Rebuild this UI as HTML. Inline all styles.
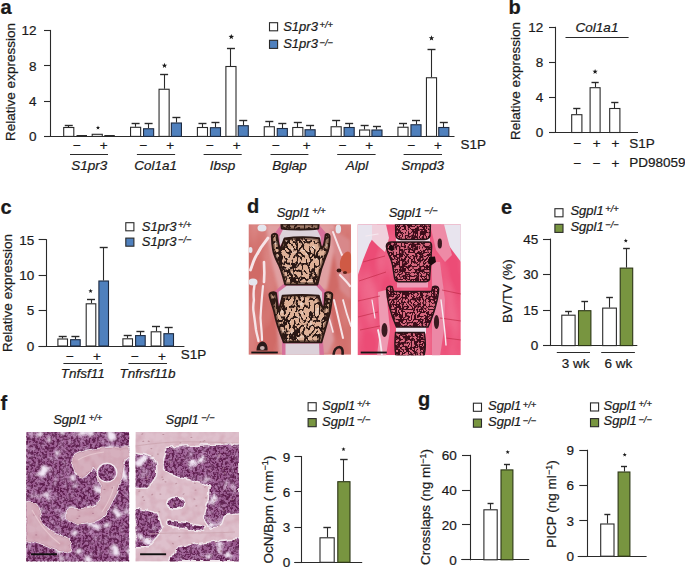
<!DOCTYPE html>
<html><head><meta charset="utf-8"><style>
html,body{margin:0;padding:0;background:#fff;}
svg{display:block;}
text{font-family:"Liberation Sans", sans-serif;stroke:#1a1a1a;stroke-width:0.22px;paint-order:stroke;}
</style></head><body>
<svg width="685" height="571" viewBox="0 0 685 571" font-family='"Liberation Sans", sans-serif'>
<text x="0.5" y="13.7" font-size="20" text-anchor="start" font-weight="bold" fill="#1a1a1a" >a</text>
<line x1="50.50" y1="29.90" x2="50.50" y2="136.90" stroke="#2a2a2a" stroke-width="1.1"/>
<line x1="44.00" y1="30.50" x2="50.50" y2="30.50" stroke="#2a2a2a" stroke-width="1.1"/>
<text x="36.5" y="35.26" font-size="13.5" text-anchor="end" fill="#1a1a1a" >12</text>
<line x1="44.00" y1="65.50" x2="50.50" y2="65.50" stroke="#2a2a2a" stroke-width="1.1"/>
<text x="36.5" y="70.66" font-size="13.5" text-anchor="end" fill="#1a1a1a" >8</text>
<line x1="44.00" y1="101.50" x2="50.50" y2="101.50" stroke="#2a2a2a" stroke-width="1.1"/>
<text x="36.5" y="105.96" font-size="13.5" text-anchor="end" fill="#1a1a1a" >4</text>
<line x1="44.00" y1="136.50" x2="50.50" y2="136.50" stroke="#2a2a2a" stroke-width="1.1"/>
<text x="36.5" y="141.26" font-size="13.5" text-anchor="end" fill="#1a1a1a" >0</text>
<line x1="44.00" y1="136.50" x2="454.50" y2="136.50" stroke="#2a2a2a" stroke-width="1.1"/>
<text x="15.0" y="82" font-size="13.5" text-anchor="middle" fill="#1a1a1a" transform="rotate(-90 15.0 82)" >Relative expression</text>
<line x1="68.50" y1="127.00" x2="68.50" y2="125.20" stroke="#2a2a2a" stroke-width="1.1"/>
<line x1="64.75" y1="125.50" x2="72.75" y2="125.50" stroke="#2a2a2a" stroke-width="1.4"/>
<rect x="63.699999999999996" y="127.5" width="10.100000000000001" height="8.900000000000006" fill="#fff" stroke="#2a2a2a" stroke-width="1.1"/>
<line x1="76.50" y1="135.80" x2="87.00" y2="135.80" stroke="#2a2a2a" stroke-width="1.6"/>
<rect x="92.2" y="134.3" width="10.099999999999994" height="2.0999999999999943" fill="#fff" stroke="#2a2a2a" stroke-width="1.1"/>
<line x1="104.30" y1="135.80" x2="114.80" y2="135.80" stroke="#2a2a2a" stroke-width="1.6"/>
<text x="76.9" y="150" font-size="13.5" text-anchor="middle" fill="#1a1a1a" >−</text>
<text x="103.7" y="150.3" font-size="13.5" text-anchor="middle" fill="#1a1a1a" >+</text>
<line x1="70.00" y1="154.50" x2="108.00" y2="154.50" stroke="#2a2a2a" stroke-width="1.1"/>
<text x="89.2" y="170.2" font-size="13.5" text-anchor="middle" font-style="italic" fill="#1a1a1a" >S1pr3</text>
<line x1="135.50" y1="126.80" x2="135.50" y2="123.75" stroke="#2a2a2a" stroke-width="1.1"/>
<line x1="131.60" y1="123.50" x2="139.60" y2="123.50" stroke="#2a2a2a" stroke-width="1.4"/>
<rect x="130.55" y="127.3" width="10.099999999999994" height="9.100000000000009" fill="#fff" stroke="#2a2a2a" stroke-width="1.1"/>
<line x1="148.50" y1="128.25" x2="148.50" y2="123.00" stroke="#2a2a2a" stroke-width="1.1"/>
<line x1="144.60" y1="123.50" x2="152.60" y2="123.50" stroke="#2a2a2a" stroke-width="1.4"/>
<rect x="143.55" y="128.75" width="10.099999999999994" height="7.650000000000006" fill="#4f80bd" stroke="#1e2a40" stroke-width="1.1"/>
<line x1="164.50" y1="88.75" x2="164.50" y2="74.00" stroke="#2a2a2a" stroke-width="1.1"/>
<line x1="160.10" y1="74.50" x2="168.10" y2="74.50" stroke="#2a2a2a" stroke-width="1.4"/>
<rect x="159.05" y="89.25" width="10.099999999999994" height="47.150000000000006" fill="#fff" stroke="#2a2a2a" stroke-width="1.1"/>
<line x1="176.50" y1="122.50" x2="176.50" y2="117.50" stroke="#2a2a2a" stroke-width="1.1"/>
<line x1="172.40" y1="117.50" x2="180.40" y2="117.50" stroke="#2a2a2a" stroke-width="1.4"/>
<rect x="171.35" y="123.0" width="10.099999999999994" height="13.400000000000006" fill="#4f80bd" stroke="#1e2a40" stroke-width="1.1"/>
<text x="143.5" y="150" font-size="13.5" text-anchor="middle" fill="#1a1a1a" >−</text>
<text x="170.1" y="150.3" font-size="13.5" text-anchor="middle" fill="#1a1a1a" >+</text>
<line x1="136.90" y1="154.50" x2="175.10" y2="154.50" stroke="#2a2a2a" stroke-width="1.1"/>
<text x="155.6" y="170.2" font-size="13.5" text-anchor="middle" font-style="italic" fill="#1a1a1a" >Col1a1</text>
<line x1="202.50" y1="127.00" x2="202.50" y2="123.40" stroke="#2a2a2a" stroke-width="1.1"/>
<line x1="198.45" y1="123.50" x2="206.45" y2="123.50" stroke="#2a2a2a" stroke-width="1.4"/>
<rect x="197.4" y="127.5" width="10.099999999999994" height="8.900000000000006" fill="#fff" stroke="#2a2a2a" stroke-width="1.1"/>
<line x1="215.50" y1="127.20" x2="215.50" y2="122.60" stroke="#2a2a2a" stroke-width="1.1"/>
<line x1="211.45" y1="122.50" x2="219.45" y2="122.50" stroke="#2a2a2a" stroke-width="1.4"/>
<rect x="210.4" y="127.7" width="10.099999999999994" height="8.700000000000003" fill="#4f80bd" stroke="#1e2a40" stroke-width="1.1"/>
<line x1="230.50" y1="66.00" x2="230.50" y2="48.00" stroke="#2a2a2a" stroke-width="1.1"/>
<line x1="226.95" y1="48.50" x2="234.95" y2="48.50" stroke="#2a2a2a" stroke-width="1.4"/>
<rect x="225.9" y="66.5" width="10.099999999999994" height="69.9" fill="#fff" stroke="#2a2a2a" stroke-width="1.1"/>
<line x1="243.50" y1="125.20" x2="243.50" y2="120.50" stroke="#2a2a2a" stroke-width="1.1"/>
<line x1="239.25" y1="120.50" x2="247.25" y2="120.50" stroke="#2a2a2a" stroke-width="1.4"/>
<rect x="238.2" y="125.7" width="10.099999999999994" height="10.700000000000003" fill="#4f80bd" stroke="#1e2a40" stroke-width="1.1"/>
<text x="209.9" y="150" font-size="13.5" text-anchor="middle" fill="#1a1a1a" >−</text>
<text x="236.8" y="150.3" font-size="13.5" text-anchor="middle" fill="#1a1a1a" >+</text>
<line x1="203.60" y1="154.50" x2="241.70" y2="154.50" stroke="#2a2a2a" stroke-width="1.1"/>
<text x="222.5" y="170.2" font-size="13.5" text-anchor="middle" font-style="italic" fill="#1a1a1a" >Ibsp</text>
<line x1="269.50" y1="126.25" x2="269.50" y2="121.75" stroke="#2a2a2a" stroke-width="1.1"/>
<line x1="265.30" y1="121.50" x2="273.30" y2="121.50" stroke="#2a2a2a" stroke-width="1.4"/>
<rect x="264.25" y="126.75" width="10.100000000000023" height="9.650000000000006" fill="#fff" stroke="#2a2a2a" stroke-width="1.1"/>
<line x1="282.50" y1="128.00" x2="282.50" y2="123.50" stroke="#2a2a2a" stroke-width="1.1"/>
<line x1="278.30" y1="123.50" x2="286.30" y2="123.50" stroke="#2a2a2a" stroke-width="1.4"/>
<rect x="277.25" y="128.5" width="10.100000000000023" height="7.900000000000006" fill="#4f80bd" stroke="#1e2a40" stroke-width="1.1"/>
<line x1="297.50" y1="127.00" x2="297.50" y2="122.00" stroke="#2a2a2a" stroke-width="1.1"/>
<line x1="293.80" y1="122.50" x2="301.80" y2="122.50" stroke="#2a2a2a" stroke-width="1.4"/>
<rect x="292.75" y="127.5" width="10.100000000000023" height="8.900000000000006" fill="#fff" stroke="#2a2a2a" stroke-width="1.1"/>
<line x1="310.50" y1="129.25" x2="310.50" y2="125.25" stroke="#2a2a2a" stroke-width="1.1"/>
<line x1="306.10" y1="125.50" x2="314.10" y2="125.50" stroke="#2a2a2a" stroke-width="1.4"/>
<rect x="305.05" y="129.75" width="10.100000000000023" height="6.650000000000006" fill="#4f80bd" stroke="#1e2a40" stroke-width="1.1"/>
<text x="275.9" y="150" font-size="13.5" text-anchor="middle" fill="#1a1a1a" >−</text>
<text x="306.6" y="150.3" font-size="13.5" text-anchor="middle" fill="#1a1a1a" >+</text>
<line x1="270.50" y1="154.50" x2="308.40" y2="154.50" stroke="#2a2a2a" stroke-width="1.1"/>
<text x="289.4" y="170.2" font-size="13.5" text-anchor="middle" font-style="italic" fill="#1a1a1a" >Bglap</text>
<line x1="336.50" y1="126.25" x2="336.50" y2="120.75" stroke="#2a2a2a" stroke-width="1.1"/>
<line x1="332.15" y1="120.50" x2="340.15" y2="120.50" stroke="#2a2a2a" stroke-width="1.4"/>
<rect x="331.09999999999997" y="126.75" width="10.100000000000023" height="9.650000000000006" fill="#fff" stroke="#2a2a2a" stroke-width="1.1"/>
<line x1="349.50" y1="127.00" x2="349.50" y2="123.00" stroke="#2a2a2a" stroke-width="1.1"/>
<line x1="345.15" y1="123.50" x2="353.15" y2="123.50" stroke="#2a2a2a" stroke-width="1.4"/>
<rect x="344.09999999999997" y="127.5" width="10.100000000000023" height="8.900000000000006" fill="#4f80bd" stroke="#1e2a40" stroke-width="1.1"/>
<line x1="364.50" y1="129.50" x2="364.50" y2="125.75" stroke="#2a2a2a" stroke-width="1.1"/>
<line x1="360.65" y1="125.50" x2="368.65" y2="125.50" stroke="#2a2a2a" stroke-width="1.4"/>
<rect x="359.59999999999997" y="130.0" width="10.100000000000023" height="6.400000000000006" fill="#fff" stroke="#2a2a2a" stroke-width="1.1"/>
<line x1="376.50" y1="129.50" x2="376.50" y2="126.25" stroke="#2a2a2a" stroke-width="1.1"/>
<line x1="372.95" y1="126.50" x2="380.95" y2="126.50" stroke="#2a2a2a" stroke-width="1.4"/>
<rect x="371.9" y="130.0" width="10.100000000000023" height="6.400000000000006" fill="#4f80bd" stroke="#1e2a40" stroke-width="1.1"/>
<text x="342.8" y="150" font-size="13.5" text-anchor="middle" fill="#1a1a1a" >−</text>
<text x="369.1" y="150.3" font-size="13.5" text-anchor="middle" fill="#1a1a1a" >+</text>
<line x1="337.20" y1="154.50" x2="375.60" y2="154.50" stroke="#2a2a2a" stroke-width="1.1"/>
<text x="356.9" y="170.2" font-size="13.5" text-anchor="middle" font-style="italic" fill="#1a1a1a" >Alpl</text>
<line x1="403.50" y1="126.75" x2="403.50" y2="123.25" stroke="#2a2a2a" stroke-width="1.1"/>
<line x1="399.00" y1="123.50" x2="407.00" y2="123.50" stroke="#2a2a2a" stroke-width="1.4"/>
<rect x="397.95" y="127.25" width="10.100000000000023" height="9.150000000000006" fill="#fff" stroke="#2a2a2a" stroke-width="1.1"/>
<line x1="416.50" y1="124.25" x2="416.50" y2="120.25" stroke="#2a2a2a" stroke-width="1.1"/>
<line x1="412.00" y1="120.50" x2="420.00" y2="120.50" stroke="#2a2a2a" stroke-width="1.4"/>
<rect x="410.95" y="124.75" width="10.100000000000023" height="11.650000000000006" fill="#4f80bd" stroke="#1e2a40" stroke-width="1.1"/>
<line x1="431.50" y1="77.25" x2="431.50" y2="49.00" stroke="#2a2a2a" stroke-width="1.1"/>
<line x1="427.50" y1="49.50" x2="435.50" y2="49.50" stroke="#2a2a2a" stroke-width="1.4"/>
<rect x="426.45" y="77.75" width="10.100000000000023" height="58.650000000000006" fill="#fff" stroke="#2a2a2a" stroke-width="1.1"/>
<line x1="443.50" y1="127.00" x2="443.50" y2="122.50" stroke="#2a2a2a" stroke-width="1.1"/>
<line x1="439.80" y1="122.50" x2="447.80" y2="122.50" stroke="#2a2a2a" stroke-width="1.4"/>
<rect x="438.75" y="127.5" width="10.100000000000023" height="8.900000000000006" fill="#4f80bd" stroke="#1e2a40" stroke-width="1.1"/>
<text x="411.4" y="150" font-size="13.5" text-anchor="middle" fill="#1a1a1a" >−</text>
<text x="437.9" y="150.3" font-size="13.5" text-anchor="middle" fill="#1a1a1a" >+</text>
<line x1="403.60" y1="154.50" x2="442.00" y2="154.50" stroke="#2a2a2a" stroke-width="1.1"/>
<text x="422.6" y="170.2" font-size="13.5" text-anchor="middle" font-style="italic" fill="#1a1a1a" >Smpd3</text>
<polygon points="164.50,62.70 165.21,64.63 167.26,64.70 165.64,65.97 166.20,67.95 164.50,66.80 162.80,67.95 163.36,65.97 161.74,64.70 163.79,64.63" fill="#1a1a1a"/>
<polygon points="231.30,33.90 232.01,35.83 234.06,35.90 232.44,37.17 233.00,39.15 231.30,38.00 229.60,39.15 230.16,37.17 228.54,35.90 230.59,35.83" fill="#1a1a1a"/>
<polygon points="431.50,35.30 432.21,37.23 434.26,37.30 432.64,38.57 433.20,40.55 431.50,39.40 429.80,40.55 430.36,38.57 428.74,37.30 430.79,37.23" fill="#1a1a1a"/>
<polygon points="98.00,125.60 98.53,127.07 100.09,127.12 98.86,128.08 99.29,129.58 98.00,128.70 96.71,129.58 97.14,128.08 95.91,127.12 97.47,127.07" fill="#1a1a1a"/>
<text x="460.5" y="148.6" font-size="13.5" text-anchor="start" fill="#1a1a1a" >S1P</text>
<rect x="269.5" y="22.7" width="8.1" height="8.1" fill="#fff" stroke="#2a2a2a" stroke-width="1.1"/>
<rect x="269.5" y="40.3" width="8.1" height="8.1" fill="#4f80bd" stroke="#2a2a2a" stroke-width="1.1"/>
<text x="283.20" y="30.70" font-size="13" font-style="italic" fill="#1a1a1a">S1pr3<tspan font-size="9.3" dy="-2.7" dx="1.6">+/+</tspan></text>
<text x="283.20" y="48.30" font-size="13" font-style="italic" fill="#1a1a1a">S1pr3<tspan font-size="9.3" dy="-2.7" dx="1.6">−/−</tspan></text>
<text x="508.5" y="13.7" font-size="20" text-anchor="start" font-weight="bold" fill="#1a1a1a" >b</text>
<line x1="555.50" y1="26.80" x2="555.50" y2="133.00" stroke="#2a2a2a" stroke-width="1.1"/>
<line x1="549.00" y1="27.50" x2="555.20" y2="27.50" stroke="#2a2a2a" stroke-width="1.1"/>
<text x="543.2" y="32.16" font-size="13.5" text-anchor="end" fill="#1a1a1a" >12</text>
<line x1="549.00" y1="62.50" x2="555.20" y2="62.50" stroke="#2a2a2a" stroke-width="1.1"/>
<text x="543.2" y="67.25999999999999" font-size="13.5" text-anchor="end" fill="#1a1a1a" >8</text>
<line x1="549.00" y1="97.50" x2="555.20" y2="97.50" stroke="#2a2a2a" stroke-width="1.1"/>
<text x="543.2" y="102.26" font-size="13.5" text-anchor="end" fill="#1a1a1a" >4</text>
<line x1="549.00" y1="132.50" x2="555.20" y2="132.50" stroke="#2a2a2a" stroke-width="1.1"/>
<text x="543.2" y="137.36" font-size="13.5" text-anchor="end" fill="#1a1a1a" >0</text>
<line x1="549.00" y1="132.50" x2="638.00" y2="132.50" stroke="#2a2a2a" stroke-width="1.1"/>
<text x="520.0" y="81" font-size="13.5" text-anchor="middle" fill="#1a1a1a" transform="rotate(-90 520.0 81)" >Relative expression</text>
<line x1="576.50" y1="114.20" x2="576.50" y2="108.40" stroke="#2a2a2a" stroke-width="1.1"/>
<line x1="573.20" y1="108.50" x2="580.40" y2="108.50" stroke="#2a2a2a" stroke-width="1.4"/>
<rect x="571.7" y="114.7" width="10.199999999999932" height="17.799999999999997" fill="#fff" stroke="#2a2a2a" stroke-width="1.1"/>
<line x1="595.50" y1="87.20" x2="595.50" y2="82.50" stroke="#2a2a2a" stroke-width="1.1"/>
<line x1="591.50" y1="82.50" x2="598.70" y2="82.50" stroke="#2a2a2a" stroke-width="1.4"/>
<rect x="590.1" y="87.7" width="10.0" height="44.8" fill="#fff" stroke="#2a2a2a" stroke-width="1.1"/>
<line x1="614.50" y1="108.00" x2="614.50" y2="102.50" stroke="#2a2a2a" stroke-width="1.1"/>
<line x1="611.20" y1="102.50" x2="618.40" y2="102.50" stroke="#2a2a2a" stroke-width="1.4"/>
<rect x="609.7" y="108.5" width="10.199999999999932" height="24.0" fill="#fff" stroke="#2a2a2a" stroke-width="1.1"/>
<polygon points="595.10,68.95 595.78,70.77 597.72,70.85 596.19,72.06 596.72,73.92 595.10,72.85 593.48,73.92 594.01,72.06 592.48,70.85 594.42,70.77" fill="#1a1a1a"/>
<text x="597" y="31.7" font-size="13.5" text-anchor="middle" font-style="italic" fill="#1a1a1a" >Col1a1</text>
<line x1="565.50" y1="37.50" x2="628.60" y2="37.50" stroke="#2a2a2a" stroke-width="1.1"/>
<text x="577.5" y="148.3" font-size="13.5" text-anchor="middle" fill="#1a1a1a" >−</text>
<text x="596.8" y="148.3" font-size="13.5" text-anchor="middle" fill="#1a1a1a" >+</text>
<text x="615.5" y="148.3" font-size="13.5" text-anchor="middle" fill="#1a1a1a" >+</text>
<text x="577.5" y="167.6" font-size="13.5" text-anchor="middle" fill="#1a1a1a" >−</text>
<text x="596.8" y="167.6" font-size="13.5" text-anchor="middle" fill="#1a1a1a" >−</text>
<text x="615.5" y="167.6" font-size="13.5" text-anchor="middle" fill="#1a1a1a" >+</text>
<text x="629.3" y="148.1" font-size="13.5" text-anchor="start" fill="#1a1a1a" >S1P</text>
<text x="629.3" y="167.4" font-size="13.5" text-anchor="start" fill="#1a1a1a" >PD98059</text>
<text x="0.5" y="213.7" font-size="20" text-anchor="start" font-weight="bold" fill="#1a1a1a" >c</text>
<line x1="46.50" y1="239.20" x2="46.50" y2="346.50" stroke="#2a2a2a" stroke-width="1.1"/>
<line x1="38.60" y1="239.50" x2="46.50" y2="239.50" stroke="#2a2a2a" stroke-width="1.1"/>
<text x="34.3" y="244.56" font-size="13.5" text-anchor="end" fill="#1a1a1a" >15</text>
<line x1="38.60" y1="275.50" x2="46.50" y2="275.50" stroke="#2a2a2a" stroke-width="1.1"/>
<text x="34.3" y="280.06" font-size="13.5" text-anchor="end" fill="#1a1a1a" >10</text>
<line x1="38.60" y1="310.50" x2="46.50" y2="310.50" stroke="#2a2a2a" stroke-width="1.1"/>
<text x="34.3" y="315.46000000000004" font-size="13.5" text-anchor="end" fill="#1a1a1a" >5</text>
<line x1="38.60" y1="346.50" x2="46.50" y2="346.50" stroke="#2a2a2a" stroke-width="1.1"/>
<text x="34.3" y="350.86" font-size="13.5" text-anchor="end" fill="#1a1a1a" >0</text>
<line x1="38.60" y1="346.50" x2="184.40" y2="346.50" stroke="#2a2a2a" stroke-width="1.1"/>
<text x="11.8" y="293.0" font-size="13.5" text-anchor="middle" fill="#1a1a1a" transform="rotate(-90 11.8 293.0)" >Relative expression</text>
<line x1="62.50" y1="338.50" x2="62.50" y2="336.40" stroke="#2a2a2a" stroke-width="1.1"/>
<line x1="58.70" y1="336.50" x2="66.70" y2="336.50" stroke="#2a2a2a" stroke-width="1.4"/>
<rect x="57.9" y="339.0" width="9.600000000000001" height="7.0" fill="#fff" stroke="#2a2a2a" stroke-width="1.1"/>
<line x1="75.50" y1="339.20" x2="75.50" y2="336.60" stroke="#2a2a2a" stroke-width="1.1"/>
<line x1="71.40" y1="336.50" x2="79.40" y2="336.50" stroke="#2a2a2a" stroke-width="1.4"/>
<rect x="70.6" y="339.7" width="9.599999999999994" height="6.300000000000011" fill="#4f80bd" stroke="#1e2a40" stroke-width="1.1"/>
<line x1="91.50" y1="303.30" x2="91.50" y2="299.70" stroke="#2a2a2a" stroke-width="1.1"/>
<line x1="87.00" y1="299.50" x2="95.00" y2="299.50" stroke="#2a2a2a" stroke-width="1.4"/>
<rect x="86.2" y="303.8" width="9.599999999999994" height="42.19999999999999" fill="#fff" stroke="#2a2a2a" stroke-width="1.1"/>
<line x1="103.50" y1="280.50" x2="103.50" y2="247.80" stroke="#2a2a2a" stroke-width="1.1"/>
<line x1="99.70" y1="247.50" x2="107.70" y2="247.50" stroke="#2a2a2a" stroke-width="1.4"/>
<rect x="98.9" y="281.0" width="9.599999999999994" height="65.0" fill="#4f80bd" stroke="#1e2a40" stroke-width="1.1"/>
<text x="70.0" y="360.7" font-size="13.5" text-anchor="middle" fill="#1a1a1a" >−</text>
<text x="97.0" y="360.8" font-size="13.5" text-anchor="middle" fill="#1a1a1a" >+</text>
<line x1="63.40" y1="363.50" x2="102.00" y2="363.50" stroke="#2a2a2a" stroke-width="1.1"/>
<text x="82.69999999999999" y="378.3" font-size="13.5" text-anchor="middle" font-style="italic" fill="#1a1a1a" >Tnfsf11</text>
<line x1="127.50" y1="338.30" x2="127.50" y2="335.30" stroke="#2a2a2a" stroke-width="1.1"/>
<line x1="123.70" y1="335.50" x2="131.70" y2="335.50" stroke="#2a2a2a" stroke-width="1.4"/>
<rect x="122.9" y="338.8" width="9.599999999999994" height="7.199999999999989" fill="#fff" stroke="#2a2a2a" stroke-width="1.1"/>
<line x1="140.50" y1="335.10" x2="140.50" y2="331.70" stroke="#2a2a2a" stroke-width="1.1"/>
<line x1="136.40" y1="331.50" x2="144.40" y2="331.50" stroke="#2a2a2a" stroke-width="1.4"/>
<rect x="135.6" y="335.6" width="9.599999999999994" height="10.399999999999977" fill="#4f80bd" stroke="#1e2a40" stroke-width="1.1"/>
<line x1="156.50" y1="331.30" x2="156.50" y2="326.00" stroke="#2a2a2a" stroke-width="1.1"/>
<line x1="152.00" y1="326.50" x2="160.00" y2="326.50" stroke="#2a2a2a" stroke-width="1.4"/>
<rect x="151.20000000000002" y="331.8" width="9.599999999999994" height="14.199999999999989" fill="#fff" stroke="#2a2a2a" stroke-width="1.1"/>
<line x1="168.50" y1="333.20" x2="168.50" y2="327.70" stroke="#2a2a2a" stroke-width="1.1"/>
<line x1="164.70" y1="327.50" x2="172.70" y2="327.50" stroke="#2a2a2a" stroke-width="1.4"/>
<rect x="163.9" y="333.7" width="9.599999999999994" height="12.300000000000011" fill="#4f80bd" stroke="#1e2a40" stroke-width="1.1"/>
<text x="135.0" y="360.7" font-size="13.5" text-anchor="middle" fill="#1a1a1a" >−</text>
<text x="162.0" y="360.8" font-size="13.5" text-anchor="middle" fill="#1a1a1a" >+</text>
<line x1="128.40" y1="363.50" x2="167.00" y2="363.50" stroke="#2a2a2a" stroke-width="1.1"/>
<text x="147.6" y="378.3" font-size="13.5" text-anchor="middle" font-style="italic" fill="#1a1a1a" >Tnfrsf11b</text>
<polygon points="90.60,288.80 91.16,290.33 92.79,290.39 91.50,291.39 91.95,292.96 90.60,292.05 89.25,292.96 89.70,291.39 88.41,290.39 90.04,290.33" fill="#1a1a1a"/>
<text x="180.8" y="359.1" font-size="13.5" text-anchor="start" fill="#1a1a1a" >S1P</text>
<rect x="125.8" y="222.7" width="8.1" height="8.1" fill="#fff" stroke="#2a2a2a" stroke-width="1.1"/>
<rect x="125.8" y="238.1" width="8.1" height="8.1" fill="#4f80bd" stroke="#2a2a2a" stroke-width="1.1"/>
<text x="141.80" y="230.70" font-size="13" font-style="italic" fill="#1a1a1a">S1pr3<tspan font-size="9.3" dy="-2.7" dx="1.6">+/+</tspan></text>
<text x="141.80" y="246.10" font-size="13" font-style="italic" fill="#1a1a1a">S1pr3<tspan font-size="9.3" dy="-2.7" dx="1.6">−/−</tspan></text>
<text x="501" y="213.5" font-size="20" text-anchor="start" font-weight="bold" fill="#1a1a1a" >e</text>
<line x1="550.50" y1="238.60" x2="550.50" y2="346.10" stroke="#2a2a2a" stroke-width="1.1"/>
<line x1="543.00" y1="239.50" x2="550.60" y2="239.50" stroke="#2a2a2a" stroke-width="1.1"/>
<text x="538.3" y="243.95999999999998" font-size="13.5" text-anchor="end" fill="#1a1a1a" >45</text>
<line x1="543.00" y1="274.50" x2="550.60" y2="274.50" stroke="#2a2a2a" stroke-width="1.1"/>
<text x="538.3" y="279.46000000000004" font-size="13.5" text-anchor="end" fill="#1a1a1a" >30</text>
<line x1="543.00" y1="310.50" x2="550.60" y2="310.50" stroke="#2a2a2a" stroke-width="1.1"/>
<text x="538.3" y="314.96000000000004" font-size="13.5" text-anchor="end" fill="#1a1a1a" >15</text>
<line x1="543.00" y1="345.50" x2="550.60" y2="345.50" stroke="#2a2a2a" stroke-width="1.1"/>
<text x="538.3" y="350.46000000000004" font-size="13.5" text-anchor="end" fill="#1a1a1a" >0</text>
<line x1="543.00" y1="345.50" x2="637.30" y2="345.50" stroke="#2a2a2a" stroke-width="1.1"/>
<text x="512.0" y="291.2" font-size="13.5" text-anchor="middle" fill="#1a1a1a" transform="rotate(-90 512.0 291.2)" >BV/TV (%)</text>
<line x1="568.50" y1="314.70" x2="568.50" y2="311.70" stroke="#2a2a2a" stroke-width="1.1"/>
<line x1="565.10" y1="311.50" x2="571.80" y2="311.50" stroke="#2a2a2a" stroke-width="1.4"/>
<rect x="561.8" y="315.2" width="13.300000000000068" height="30.400000000000034" fill="#fff" stroke="#2a2a2a" stroke-width="1.1"/>
<line x1="584.50" y1="310.20" x2="584.50" y2="301.50" stroke="#2a2a2a" stroke-width="1.1"/>
<line x1="581.35" y1="301.50" x2="588.05" y2="301.50" stroke="#2a2a2a" stroke-width="1.4"/>
<rect x="578.5" y="310.7" width="12.399999999999977" height="34.900000000000034" fill="#789540" stroke="#2c3616" stroke-width="1.1"/>
<line x1="609.50" y1="307.60" x2="609.50" y2="297.40" stroke="#2a2a2a" stroke-width="1.1"/>
<line x1="606.20" y1="297.50" x2="612.90" y2="297.50" stroke="#2a2a2a" stroke-width="1.4"/>
<rect x="602.7" y="308.1" width="13.699999999999932" height="37.5" fill="#fff" stroke="#2a2a2a" stroke-width="1.1"/>
<line x1="626.50" y1="267.60" x2="626.50" y2="248.70" stroke="#2a2a2a" stroke-width="1.1"/>
<line x1="623.10" y1="248.50" x2="629.80" y2="248.50" stroke="#2a2a2a" stroke-width="1.4"/>
<rect x="620.2" y="268.1" width="12.5" height="77.5" fill="#789540" stroke="#2c3616" stroke-width="1.1"/>
<polygon points="625.80,238.60 626.33,240.07 627.89,240.12 626.66,241.08 627.09,242.58 625.80,241.70 624.51,242.58 624.94,241.08 623.71,240.12 625.27,240.07" fill="#1a1a1a"/>
<line x1="556.80" y1="352.50" x2="590.00" y2="352.50" stroke="#2a2a2a" stroke-width="1.1"/>
<line x1="601.20" y1="352.50" x2="634.90" y2="352.50" stroke="#2a2a2a" stroke-width="1.1"/>
<text x="575.6" y="368" font-size="13.5" text-anchor="middle" fill="#1a1a1a" >3 wk</text>
<text x="618.5" y="368" font-size="13.5" text-anchor="middle" fill="#1a1a1a" >6 wk</text>
<rect x="554.9" y="208.7" width="8.1" height="8.1" fill="#fff" stroke="#2a2a2a" stroke-width="1.1"/>
<rect x="554.9" y="224.3" width="8.1" height="8.1" fill="#789540" stroke="#2a2a2a" stroke-width="1.1"/>
<text x="570.40" y="214.90" font-size="13" font-style="italic" fill="#1a1a1a">Sgpl1<tspan font-size="9.3" dy="-2.7" dx="1.6">+/+</tspan></text>
<text x="570.40" y="230.50" font-size="13" font-style="italic" fill="#1a1a1a">Sgpl1<tspan font-size="9.3" dy="-2.7" dx="1.6">−/−</tspan></text>
<line x1="301.50" y1="456.20" x2="301.50" y2="562.80" stroke="#2a2a2a" stroke-width="1.1"/>
<line x1="294.40" y1="456.50" x2="301.80" y2="456.50" stroke="#2a2a2a" stroke-width="1.1"/>
<text x="290.2" y="461.56" font-size="13.5" text-anchor="end" fill="#1a1a1a" >9</text>
<line x1="294.40" y1="491.50" x2="301.80" y2="491.50" stroke="#2a2a2a" stroke-width="1.1"/>
<text x="290.2" y="496.76" font-size="13.5" text-anchor="end" fill="#1a1a1a" >6</text>
<line x1="294.40" y1="527.50" x2="301.80" y2="527.50" stroke="#2a2a2a" stroke-width="1.1"/>
<text x="290.2" y="531.96" font-size="13.5" text-anchor="end" fill="#1a1a1a" >3</text>
<line x1="294.40" y1="562.50" x2="301.80" y2="562.50" stroke="#2a2a2a" stroke-width="1.1"/>
<text x="290.2" y="567.16" font-size="13.5" text-anchor="end" fill="#1a1a1a" >0</text>
<line x1="294.40" y1="562.50" x2="362.20" y2="562.50" stroke="#2a2a2a" stroke-width="1.1"/>
<text x="273" y="509.7" font-size="13.5" text-anchor="middle" fill="#1a1a1a" transform="rotate(-90 273 509.7)">OcN/Bpm ( mm<tspan font-size="9" dy="-4.5">−1</tspan><tspan dy="4.5">)</tspan></text>
<line x1="327.50" y1="537.30" x2="327.50" y2="527.30" stroke="#2a2a2a" stroke-width="1.1"/>
<line x1="323.35" y1="527.50" x2="330.85" y2="527.50" stroke="#2a2a2a" stroke-width="1.4"/>
<rect x="320.0" y="537.8" width="14.199999999999989" height="24.5" fill="#fff" stroke="#2a2a2a" stroke-width="1.1"/>
<line x1="343.50" y1="481.20" x2="343.50" y2="459.50" stroke="#2a2a2a" stroke-width="1.1"/>
<line x1="340.15" y1="459.50" x2="347.65" y2="459.50" stroke="#2a2a2a" stroke-width="1.4"/>
<rect x="337.8" y="481.7" width="12.199999999999989" height="80.59999999999997" fill="#789540" stroke="#2c3616" stroke-width="1.1"/>
<polygon points="343.50,447.10 344.03,448.57 345.59,448.62 344.36,449.58 344.79,451.08 343.50,450.20 342.21,451.08 342.64,449.58 341.41,448.62 342.97,448.57" fill="#1a1a1a"/>
<rect x="308.1" y="402.7" width="8.1" height="8.1" fill="#fff" stroke="#2a2a2a" stroke-width="1.1"/>
<rect x="308.1" y="418.6" width="8.1" height="8.1" fill="#789540" stroke="#2a2a2a" stroke-width="1.1"/>
<text x="322.10" y="410.10" font-size="13" font-style="italic" fill="#1a1a1a">Sgpl1<tspan font-size="9.3" dy="-2.7" dx="1.6">+/+</tspan></text>
<text x="322.10" y="426.00" font-size="13" font-style="italic" fill="#1a1a1a">Sgpl1<tspan font-size="9.3" dy="-2.7" dx="1.6">−/−</tspan></text>
<text x="418" y="406" font-size="20" text-anchor="start" font-weight="bold" fill="#1a1a1a" >g</text>
<line x1="470.50" y1="454.80" x2="470.50" y2="560.30" stroke="#2a2a2a" stroke-width="1.1"/>
<line x1="462.00" y1="455.50" x2="470.20" y2="455.50" stroke="#2a2a2a" stroke-width="1.1"/>
<text x="456.8" y="460.16" font-size="13.5" text-anchor="end" fill="#1a1a1a" >60</text>
<line x1="462.00" y1="490.50" x2="470.20" y2="490.50" stroke="#2a2a2a" stroke-width="1.1"/>
<text x="456.8" y="494.96000000000004" font-size="13.5" text-anchor="end" fill="#1a1a1a" >40</text>
<line x1="462.00" y1="524.50" x2="470.20" y2="524.50" stroke="#2a2a2a" stroke-width="1.1"/>
<text x="456.8" y="529.76" font-size="13.5" text-anchor="end" fill="#1a1a1a" >20</text>
<line x1="462.00" y1="559.50" x2="470.20" y2="559.50" stroke="#2a2a2a" stroke-width="1.1"/>
<text x="456.8" y="564.66" font-size="13.5" text-anchor="end" fill="#1a1a1a" >0</text>
<line x1="461.20" y1="559.50" x2="529.20" y2="559.50" stroke="#2a2a2a" stroke-width="1.1"/>
<text x="430" y="507" font-size="13.5" text-anchor="middle" fill="#1a1a1a" transform="rotate(-90 430 507)">Crosslaps (ng ml<tspan font-size="9" dy="-4.5">−1</tspan><tspan dy="4.5">)</tspan></text>
<line x1="490.50" y1="509.30" x2="490.50" y2="503.60" stroke="#2a2a2a" stroke-width="1.1"/>
<line x1="487.55" y1="503.50" x2="493.55" y2="503.50" stroke="#2a2a2a" stroke-width="1.4"/>
<rect x="483.9" y="509.8" width="13.300000000000011" height="49.99999999999994" fill="#fff" stroke="#2a2a2a" stroke-width="1.1"/>
<line x1="506.50" y1="469.40" x2="506.50" y2="464.30" stroke="#2a2a2a" stroke-width="1.1"/>
<line x1="503.95" y1="464.50" x2="509.95" y2="464.50" stroke="#2a2a2a" stroke-width="1.4"/>
<rect x="501.0" y="469.9" width="11.899999999999977" height="89.89999999999998" fill="#789540" stroke="#2c3616" stroke-width="1.1"/>
<polygon points="507.70,449.90 508.23,451.37 509.79,451.42 508.56,452.38 508.99,453.88 507.70,453.00 506.41,453.88 506.84,452.38 505.61,451.42 507.17,451.37" fill="#1a1a1a"/>
<rect x="473.4" y="403.2" width="8.1" height="8.1" fill="#fff" stroke="#2a2a2a" stroke-width="1.1"/>
<rect x="473.4" y="419.1" width="8.1" height="8.1" fill="#789540" stroke="#2a2a2a" stroke-width="1.1"/>
<text x="488.00" y="410.40" font-size="13" font-style="italic" fill="#1a1a1a">Sgpl1<tspan font-size="9.3" dy="-2.7" dx="1.6">+/+</tspan></text>
<text x="488.00" y="426.30" font-size="13" font-style="italic" fill="#1a1a1a">Sgpl1<tspan font-size="9.3" dy="-2.7" dx="1.6">−/−</tspan></text>
<line x1="587.50" y1="449.70" x2="587.50" y2="556.70" stroke="#2a2a2a" stroke-width="1.1"/>
<line x1="579.30" y1="450.50" x2="587.30" y2="450.50" stroke="#2a2a2a" stroke-width="1.1"/>
<text x="574.0" y="455.06" font-size="13.5" text-anchor="end" fill="#1a1a1a" >9</text>
<line x1="579.30" y1="485.50" x2="587.30" y2="485.50" stroke="#2a2a2a" stroke-width="1.1"/>
<text x="574.0" y="490.36" font-size="13.5" text-anchor="end" fill="#1a1a1a" >6</text>
<line x1="579.30" y1="520.50" x2="587.30" y2="520.50" stroke="#2a2a2a" stroke-width="1.1"/>
<text x="574.0" y="525.76" font-size="13.5" text-anchor="end" fill="#1a1a1a" >3</text>
<line x1="579.30" y1="556.50" x2="587.30" y2="556.50" stroke="#2a2a2a" stroke-width="1.1"/>
<text x="574.0" y="561.0600000000001" font-size="13.5" text-anchor="end" fill="#1a1a1a" >0</text>
<line x1="577.70" y1="556.50" x2="646.60" y2="556.50" stroke="#2a2a2a" stroke-width="1.1"/>
<text x="556.2" y="504" font-size="13.5" text-anchor="middle" fill="#1a1a1a" transform="rotate(-90 556.2 504)">PICP (ng ml<tspan font-size="9" dy="-4.5">−1</tspan><tspan dy="4.5">)</tspan></text>
<line x1="607.50" y1="523.50" x2="607.50" y2="514.30" stroke="#2a2a2a" stroke-width="1.1"/>
<line x1="604.35" y1="514.50" x2="610.35" y2="514.50" stroke="#2a2a2a" stroke-width="1.4"/>
<rect x="600.7" y="524.0" width="13.299999999999955" height="32.200000000000045" fill="#fff" stroke="#2a2a2a" stroke-width="1.1"/>
<line x1="624.50" y1="471.50" x2="624.50" y2="466.50" stroke="#2a2a2a" stroke-width="1.1"/>
<line x1="621.00" y1="466.50" x2="627.00" y2="466.50" stroke="#2a2a2a" stroke-width="1.4"/>
<rect x="618.1" y="472.0" width="11.799999999999955" height="84.20000000000005" fill="#789540" stroke="#2c3616" stroke-width="1.1"/>
<polygon points="624.70,452.60 625.23,454.07 626.79,454.12 625.56,455.08 625.99,456.58 624.70,455.70 623.41,456.58 623.84,455.08 622.61,454.12 624.17,454.07" fill="#1a1a1a"/>
<rect x="590.5" y="402.9" width="8.1" height="8.1" fill="#fff" stroke="#2a2a2a" stroke-width="1.1"/>
<rect x="590.5" y="418.6" width="8.1" height="8.1" fill="#789540" stroke="#2a2a2a" stroke-width="1.1"/>
<text x="603.60" y="409.50" font-size="13" font-style="italic" fill="#1a1a1a">Sgpl1<tspan font-size="9.3" dy="-2.7" dx="1.6">+/+</tspan></text>
<text x="603.60" y="425.20" font-size="13" font-style="italic" fill="#1a1a1a">Sgpl1<tspan font-size="9.3" dy="-2.7" dx="1.6">−/−</tspan></text>
<text x="247" y="212.8" font-size="20" text-anchor="start" font-weight="bold" fill="#1a1a1a" >d</text>
<text x="276.7" y="216.7" font-size="13" font-style="italic" fill="#1a1a1a">Sgpl1<tspan font-size="9.3" dx="2.4" dy="-2.7">+/+</tspan></text>
<text x="388.7" y="216.7" font-size="13" font-style="italic" fill="#1a1a1a">Sgpl1<tspan font-size="9.3" dx="2.4" dy="-2.7">−/−</tspan></text>
<text x="0.5" y="410.4" font-size="20" text-anchor="start" font-weight="bold" fill="#1a1a1a" >f</text>
<text x="53.2" y="423.7" font-size="13" font-style="italic" fill="#1a1a1a">Sgpl1<tspan font-size="9.3" dx="2.4" dy="-2.7">+/+</tspan></text>
<text x="165.5" y="423.7" font-size="13" font-style="italic" fill="#1a1a1a">Sgpl1<tspan font-size="9.3" dx="2.4" dy="-2.7">−/−</tspan></text>
<defs>
<filter id="trab" x="0" y="0" width="1" height="1" color-interpolation-filters="sRGB">
 <feTurbulence type="turbulence" baseFrequency="0.2 0.14" numOctaves="2" seed="7"/>
 <feColorMatrix type="matrix" values="0 0 0 0 0.16  0 0 0 0 0.09  0 0 0 0 0.08  -10 0 0 0 2.55"/>
 <feGaussianBlur stdDeviation="0.45"/>
</filter>
<filter id="trab2" x="0" y="0" width="1" height="1" color-interpolation-filters="sRGB">
 <feTurbulence type="turbulence" baseFrequency="0.34 0.3" numOctaves="2" seed="11"/>
 <feColorMatrix type="matrix" values="0 0 0 0 0.24  0 0 0 0 0.05  0 0 0 0 0.10  -9 0 0 0 2.95"/>
 <feGaussianBlur stdDeviation="0.6"/>
</filter>
<filter id="lite" x="0" y="0" width="1" height="1" color-interpolation-filters="sRGB">
 <feTurbulence type="fractalNoise" baseFrequency="0.2" numOctaves="2" seed="5"/>
 <feColorMatrix type="matrix" values="0 0 0 0 0.93  0 0 0 0 0.86  0 0 0 0 0.82  6 0 0 0 -3.6"/>
 <feGaussianBlur stdDeviation="0.6"/>
</filter>
<filter id="marrow" x="0" y="0" width="1" height="1" color-interpolation-filters="sRGB">
 <feTurbulence type="fractalNoise" baseFrequency="0.42" numOctaves="2" seed="3"/>
 <feColorMatrix type="matrix" values="0 0 0 0 0.36  0 0 0 0 0.11  0 0 0 0 0.30  -7 0 0 0 3.95"/>
 <feGaussianBlur stdDeviation="0.5"/>
</filter>
<filter id="gaps" x="0" y="0" width="1" height="1" color-interpolation-filters="sRGB">
 <feTurbulence type="turbulence" baseFrequency="0.16" numOctaves="2" seed="21" result="t"/>
 <feColorMatrix in="t" type="matrix" values="0 0 0 0 0.90  0 0 0 0 0.80  0 0 0 0 0.92  -10 0 0 0 1.3" result="a"/>
 <feTurbulence type="fractalNoise" baseFrequency="0.075" numOctaves="2" seed="5" result="t2"/>
 <feColorMatrix in="t2" type="matrix" values="0 0 0 0 0.95  0 0 0 0 0.91  0 0 0 0 0.96  -8 0 0 0 3.2" result="b"/>
 <feMerge><feMergeNode in="a"/><feMergeNode in="b"/></feMerge>
 <feGaussianBlur stdDeviation="0.8"/>
</filter>
<filter id="muscle" x="0" y="0" width="1" height="1" color-interpolation-filters="sRGB">
 <feTurbulence type="fractalNoise" baseFrequency="0.05 0.02" numOctaves="2" seed="9"/>
 <feColorMatrix type="matrix" values="0 0 0 0 1  0 0 0 0 0.9  0 0 0 0 0.92  1.2 0 0 0 -0.45"/>
</filter>
<filter id="bonet" x="0" y="0" width="1" height="1" color-interpolation-filters="sRGB">
 <feTurbulence type="fractalNoise" baseFrequency="0.12" numOctaves="2" seed="13"/>
 <feColorMatrix type="matrix" values="0 0 0 0 0.78  0 0 0 0 0.55  0 0 0 0 0.62  1.5 0 0 0 -0.6"/>
</filter>
<filter id="rough" x="-5%" y="-5%" width="110%" height="110%">
 <feTurbulence type="fractalNoise" baseFrequency="0.12" numOctaves="2" seed="4" result="n"/>
 <feDisplacementMap in="SourceGraphic" in2="n" scale="5" xChannelSelector="R" yChannelSelector="G"/>
</filter>
<filter id="blur1"><feGaussianBlur stdDeviation="0.6"/></filter>
<filter id="blur2"><feGaussianBlur stdDeviation="1.5"/></filter>
<filter id="blur3"><feGaussianBlur stdDeviation="3"/></filter>
<clipPath id="cdl"><rect x="248.5" y="224.2" width="102.6" height="130.6"/></clipPath>
<clipPath id="cdr"><rect x="357.5" y="224.2" width="103.3" height="131"/></clipPath>
<clipPath id="cfl"><rect x="26.2" y="431.9" width="103" height="129.7"/></clipPath>
<clipPath id="cfr"><rect x="135.4" y="431.9" width="103.7" height="129.7"/></clipPath>
</defs>
<g clip-path="url(#cdl)">
<rect x="248.5" y="224.2" width="102.6" height="130.6" fill="#d06a66"/>
<rect x="248.5" y="224.2" width="102.6" height="130.6" filter="url(#muscle)" opacity="0.5"/>
<g filter="url(#blur2)">
<path d="M266 224 L285 224 L285 292 L279 292 L272 262 L268 240 Z" fill="#e0a0a2"/>
<path d="M316 224 L335 224 L334 250 L327 290 L316 290 Z" fill="#e0a0a2"/>
<path d="M276 312 L286 316 L286 354 L279 354 Z" fill="#dc9a9e"/>
<path d="M322 312 L330 310 L334 340 L328 354 L319 354 Z" fill="#dc9a9e"/>
<path d="M330 228 L350 240 L351 300 L340 290 Z" fill="#d8888a"/>
</g>
<filter id="blur15"><feGaussianBlur stdDeviation="0.7"/></filter>
<g fill="none" stroke="#f6e4e8" stroke-linecap="round" filter="url(#blur15)">
<path d="M268 238 C263 244 258 252 255 258 C253 262 252 266 250.5 270" stroke-width="2.8"/>
<path d="M263 286 C262 296 261 308 260.5 318 C261 326 262 333 262 340" stroke-width="2.2"/>
<path d="M254.5 285 C253 292 253.5 296 253.9 300 C253 306 253 309 253.6 312 C254.5 318 255 322 256 330 C257 335 258 338 258.5 341" stroke-width="2.4"/>
<path d="M264 262 C264.5 270 264.5 276 264 282" stroke-width="2.6"/>
<path d="M333 232 C336 240 339 248 342 255" stroke-width="2"/>
<path d="M340 275 C344 279 347 282 350 286" stroke-width="2.2"/>
<path d="M334 300 C337 312 340 325 343 338" stroke-width="2"/>
<path d="M343 300 C345 308 348 318 351 326" stroke-width="1.8"/>
<path d="M327 312 C329 318 331 324 333 332" stroke-width="1.6"/>
</g>
<g fill="#e4e6ee" filter="url(#blur1)">
<ellipse cx="262" cy="228" rx="4.5" ry="3.6"/>
<ellipse cx="253" cy="282" rx="4.5" ry="3.5"/>
<ellipse cx="338.3" cy="229" rx="2.8" ry="4.5"/>
<ellipse cx="250.5" cy="250" rx="2" ry="3"/>
</g>
<g filter="url(#blur1)">
<path d="M280 226 L320 226 L326 233 L323 250 L319 238 L284.6 238.5 L279.5 250 L275 233 Z" fill="#d6709a"/>
<path d="M283.5 228.5 L316.5 228.5 L320.5 236.5 L321.3 246 L318.5 237.5 L284.8 238 L280 246 L279.5 236.5 Z" fill="#dcd2da"/>
<path d="M284 283.5 L319 283.5 L325.5 291 L323.5 311 L318.7 295.6 L282.6 295.8 L278.4 311 L275 291 Z" fill="#d6709a"/>
<path d="M287 285.6 L316 285.6 L322 292 L322.5 305 L318.7 295 L282.6 295.2 L279 305 L278.5 292 Z" fill="#dcd2da"/>
<path d="M282 341 L323 341 L324 356 L282 356 Z" fill="#d6709a"/>
<path d="M285.5 343.5 L319 343.5 L319.5 356 L285.5 356 Z" fill="#dcd0d8"/>
</g>
<path d="M281.3 224.2 L318.7 224.2 L318.2 228.6 C310 229.8 290 229.8 281.8 228.6 Z" fill="#deb096"/>
<path d="M271.8 236.5 C271.4 233.8 275.6 232.6 277.2 235.2 C277.8 240 278.3 245.5 280 248.3 C282 247.8 283.2 241.5 284.6 238.5 C296 236.8 308 236.8 319 238.2 C320 242 320.6 247 321.9 248.2 C323.8 247 325 240 325.6 234.8 C327 233.2 330 234 329.6 237.5 C329.8 243 329 248 327.8 251.5 C326.3 255 325 258.5 323.8 261.8 C322 266 320.5 271 319.3 276.5 C318.6 280 318 282.5 317.3 284.6 L285.2 284.6 C284 280 281 268 277.3 261.8 C275 257 273.5 253 273 249.5 C272.2 245 271.9 240 271.8 236.5 Z" fill="#deb096"/>
<path d="M269.6 296 C268.6 292.6 272.8 291.4 275.8 292.8 C276.8 298 277.3 304.5 278.4 308.8 C280.3 308.5 281.5 300 282.6 295.8 C295 294.6 308 294.6 318.7 295.6 C320 300 321.4 306 323.6 309.2 C325 305 325 298 325.2 293.2 C328 291.2 333 292 332.2 295.8 C331.8 301 330.8 307 329.9 312.6 C327.5 322 324 333 321.4 342.4 L283.8 342.4 C280 333 276 322 274.4 312.6 C273.5 308 270.5 301 269.6 296 Z" fill="#deb096"/>
<clipPath id="cvl"><path d="M281.3 224.2 L318.7 224.2 L318.2 228.6 C310 229.8 290 229.8 281.8 228.6 Z"/><path d="M271.8 236.5 C271.4 233.8 275.6 232.6 277.2 235.2 C277.8 240 278.3 245.5 280 248.3 C282 247.8 283.2 241.5 284.6 238.5 C296 236.8 308 236.8 319 238.2 C320 242 320.6 247 321.9 248.2 C323.8 247 325 240 325.6 234.8 C327 233.2 330 234 329.6 237.5 C329.8 243 329 248 327.8 251.5 C326.3 255 325 258.5 323.8 261.8 C322 266 320.5 271 319.3 276.5 C318.6 280 318 282.5 317.3 284.6 L285.2 284.6 C284 280 281 268 277.3 261.8 C275 257 273.5 253 273 249.5 C272.2 245 271.9 240 271.8 236.5 Z"/><path d="M269.6 296 C268.6 292.6 272.8 291.4 275.8 292.8 C276.8 298 277.3 304.5 278.4 308.8 C280.3 308.5 281.5 300 282.6 295.8 C295 294.6 308 294.6 318.7 295.6 C320 300 321.4 306 323.6 309.2 C325 305 325 298 325.2 293.2 C328 291.2 333 292 332.2 295.8 C331.8 301 330.8 307 329.9 312.6 C327.5 322 324 333 321.4 342.4 L283.8 342.4 C280 333 276 322 274.4 312.6 C273.5 308 270.5 301 269.6 296 Z"/></clipPath>
<g clip-path="url(#cvl)">
<rect x="265" y="224" width="70" height="120" filter="url(#lite)" opacity="0.8"/>
<rect x="265" y="224" width="70" height="120" filter="url(#trab)"/>
</g>
<g clip-path="url(#cvl)" filter="url(#blur1)">
<path d="M281.3 224.2 L318.7 224.2 L318.2 228.6 C310 229.8 290 229.8 281.8 228.6 Z" fill="none" stroke="#3a2018" stroke-width="5" stroke-opacity="0.45"/>
<path d="M271.8 236.5 C271.4 233.8 275.6 232.6 277.2 235.2 C277.8 240 278.3 245.5 280 248.3 C282 247.8 283.2 241.5 284.6 238.5 C296 236.8 308 236.8 319 238.2 C320 242 320.6 247 321.9 248.2 C323.8 247 325 240 325.6 234.8 C327 233.2 330 234 329.6 237.5 C329.8 243 329 248 327.8 251.5 C326.3 255 325 258.5 323.8 261.8 C322 266 320.5 271 319.3 276.5 C318.6 280 318 282.5 317.3 284.6 L285.2 284.6 C284 280 281 268 277.3 261.8 C275 257 273.5 253 273 249.5 C272.2 245 271.9 240 271.8 236.5 Z" fill="none" stroke="#3a2018" stroke-width="5" stroke-opacity="0.45"/>
<path d="M269.6 296 C268.6 292.6 272.8 291.4 275.8 292.8 C276.8 298 277.3 304.5 278.4 308.8 C280.3 308.5 281.5 300 282.6 295.8 C295 294.6 308 294.6 318.7 295.6 C320 300 321.4 306 323.6 309.2 C325 305 325 298 325.2 293.2 C328 291.2 333 292 332.2 295.8 C331.8 301 330.8 307 329.9 312.6 C327.5 322 324 333 321.4 342.4 L283.8 342.4 C280 333 276 322 274.4 312.6 C273.5 308 270.5 301 269.6 296 Z" fill="none" stroke="#3a2018" stroke-width="5" stroke-opacity="0.45"/>
</g>
<path d="M281.3 224.2 L318.7 224.2 L318.2 228.6 C310 229.8 290 229.8 281.8 228.6 Z" fill="none" stroke="#2c1814" stroke-width="1.9" stroke-linejoin="round"/>
<path d="M271.8 236.5 C271.4 233.8 275.6 232.6 277.2 235.2 C277.8 240 278.3 245.5 280 248.3 C282 247.8 283.2 241.5 284.6 238.5 C296 236.8 308 236.8 319 238.2 C320 242 320.6 247 321.9 248.2 C323.8 247 325 240 325.6 234.8 C327 233.2 330 234 329.6 237.5 C329.8 243 329 248 327.8 251.5 C326.3 255 325 258.5 323.8 261.8 C322 266 320.5 271 319.3 276.5 C318.6 280 318 282.5 317.3 284.6 L285.2 284.6 C284 280 281 268 277.3 261.8 C275 257 273.5 253 273 249.5 C272.2 245 271.9 240 271.8 236.5 Z" fill="none" stroke="#2c1814" stroke-width="1.9" stroke-linejoin="round"/>
<path d="M269.6 296 C268.6 292.6 272.8 291.4 275.8 292.8 C276.8 298 277.3 304.5 278.4 308.8 C280.3 308.5 281.5 300 282.6 295.8 C295 294.6 308 294.6 318.7 295.6 C320 300 321.4 306 323.6 309.2 C325 305 325 298 325.2 293.2 C328 291.2 333 292 332.2 295.8 C331.8 301 330.8 307 329.9 312.6 C327.5 322 324 333 321.4 342.4 L283.8 342.4 C280 333 276 322 274.4 312.6 C273.5 308 270.5 301 269.6 296 Z" fill="none" stroke="#2c1814" stroke-width="1.9" stroke-linejoin="round"/>
<path d="M256.5 350.5 C256.5 345 259.5 341.5 262.5 341.5 C265.5 341.5 268 345 267.5 350.5 Z" fill="#2a1a1a"/>
<ellipse cx="262.3" cy="348" rx="2.4" ry="2" fill="#c8b0b0"/>
<path d="M333.5 355 C334 350 336.5 347 339.5 347 C342 347.5 343 351 342.5 355" fill="none" stroke="#2a1a1a" stroke-width="2.6"/>
<path d="M346 252 C350 250 352 254 351.5 262 L351.5 272 C348 275 343 273 341 270 C338.5 265 340 256 346 252 Z" fill="#cf5a44" filter="url(#blur1)"/>
<ellipse cx="339" cy="270.5" rx="2.4" ry="2" fill="#3a1612"/>
<ellipse cx="345" cy="272.5" rx="2" ry="1.5" fill="#5a2018"/>
<rect x="251.3" y="351.6" width="26.5" height="1.8" fill="#141414"/>
</g>
<g clip-path="url(#cdr)">
<rect x="357.5" y="224.2" width="103.3" height="131" fill="#ec4c76"/>
<rect x="357.5" y="224.2" width="103.3" height="131" filter="url(#muscle)" opacity="0.45"/>
<g filter="url(#blur1)">
<path d="M357.5 224.2 L377 224.2 L374 236 L369.4 244 L363 260 L357.5 276 Z" fill="#e8e4ee"/>
<path d="M372 224.2 L386 224.2 L389 238 L385 252 L378 246 L372 240 Z" fill="#f0d0dc"/>
<path d="M441 224.2 L461 224.2 L461 262 L452 250 L445 240 Z" fill="#e8e4ee"/>
<path d="M430 224.2 L444 224.2 L448 240 L452 255 L445 262 L436 250 Z" fill="#ee8aa6"/>
<path d="M378 292 L386 290 L390 330 L386 356 L377 356 L380 330 Z" fill="#ee9ab2"/>
<path d="M432 262 L440 262 L445 300 L444 330 L440 356 L432 356 Z" fill="#ec88a6"/>
</g>
<g fill="none" stroke="#c22c4a" stroke-width="0.9" opacity="0.75">
<path d="M363 262 L385 256"/><path d="M359 281 L386 272"/><path d="M358 301 L380 296"/><path d="M360 330 L380 326"/><path d="M358 317 L378 312"/>
<path d="M442 290 L461 294"/><path d="M440 318 L461 321"/><path d="M446 338 L461 340"/>
</g>
<g fill="none" stroke="#f6eaf0" stroke-linecap="round" filter="url(#blur1)">
<path d="M378 330 C380 338 381 346 382 356" stroke-width="1.8"/>
<path d="M441 300 C443 316 445 330 446 345" stroke-width="1.4"/>
<path d="M366 236 L378 234" stroke-width="1.2"/>
<path d="M372 300 C373 306 374 312 375 318" stroke-width="1.2"/>
</g>
<g filter="url(#blur1)">
<rect x="396" y="238" width="34" height="6" fill="#f4d8e4"/>
<rect x="397" y="280.5" width="31" height="7" fill="#ee9cb8"/>
<rect x="396" y="326.5" width="30" height="7" fill="#f0e2ec"/>
</g>
<path d="M395.6 224.2 L430.4 224.2 L430 236 C429 238.5 427 239.4 424 239.4 L401 239.4 C398 239.4 396 238 395.8 235 Z" fill="#d6687e"/>
<path d="M386.5 247 C386 243.5 388.5 242 392 242 L429 242 C431.2 242.2 431.8 244.5 431.5 248 L430.8 262 L429.5 279.5 C428 281.6 426 281.8 424 281.8 L399 281.8 C396.5 281.8 395.2 280.5 394.6 278 L392.5 265 C391.5 258 387 253 386.5 247 Z" fill="#d6687e"/>
<path d="M386.6 289.5 C386.4 286.8 389 285.8 392 286.6 L393.6 291.5 L431.8 291.2 L432.8 286.8 C435 285.6 438.8 286.2 438.6 289.5 C438.4 295 437.2 300 435.8 305 C433.8 314 430.5 321 428 327 L396.5 327 C393.8 321 391 313 389 305 C387.8 300 386.8 295 386.6 289.5 Z" fill="#d6687e"/>
<path d="M395.6 332.6 L424.2 332.6 C425.5 340 426 348 424 356 L396 356 C394.5 348 394.8 340 395.6 332.6 Z" fill="#d6687e"/>
<clipPath id="cvr"><path d="M395.6 224.2 L430.4 224.2 L430 236 C429 238.5 427 239.4 424 239.4 L401 239.4 C398 239.4 396 238 395.8 235 Z"/><path d="M386.5 247 C386 243.5 388.5 242 392 242 L429 242 C431.2 242.2 431.8 244.5 431.5 248 L430.8 262 L429.5 279.5 C428 281.6 426 281.8 424 281.8 L399 281.8 C396.5 281.8 395.2 280.5 394.6 278 L392.5 265 C391.5 258 387 253 386.5 247 Z"/><path d="M386.6 289.5 C386.4 286.8 389 285.8 392 286.6 L393.6 291.5 L431.8 291.2 L432.8 286.8 C435 285.6 438.8 286.2 438.6 289.5 C438.4 295 437.2 300 435.8 305 C433.8 314 430.5 321 428 327 L396.5 327 C393.8 321 391 313 389 305 C387.8 300 386.8 295 386.6 289.5 Z"/><path d="M395.6 332.6 L424.2 332.6 C425.5 340 426 348 424 356 L396 356 C394.5 348 394.8 340 395.6 332.6 Z"/></clipPath>
<rect x="385" y="224" width="55" height="133" filter="url(#trab2)" clip-path="url(#cvr)"/>
<path d="M395.6 224.2 L430.4 224.2 L430 236 C429 238.5 427 239.4 424 239.4 L401 239.4 C398 239.4 396 238 395.8 235 Z" fill="none" stroke="#2a1418" stroke-width="1.5"/>
<path d="M386.5 247 C386 243.5 388.5 242 392 242 L429 242 C431.2 242.2 431.8 244.5 431.5 248 L430.8 262 L429.5 279.5 C428 281.6 426 281.8 424 281.8 L399 281.8 C396.5 281.8 395.2 280.5 394.6 278 L392.5 265 C391.5 258 387 253 386.5 247 Z" fill="none" stroke="#2a1418" stroke-width="1.5"/>
<path d="M386.6 289.5 C386.4 286.8 389 285.8 392 286.6 L393.6 291.5 L431.8 291.2 L432.8 286.8 C435 285.6 438.8 286.2 438.6 289.5 C438.4 295 437.2 300 435.8 305 C433.8 314 430.5 321 428 327 L396.5 327 C393.8 321 391 313 389 305 C387.8 300 386.8 295 386.6 289.5 Z" fill="none" stroke="#2a1418" stroke-width="1.5"/>
<path d="M395.6 332.6 L424.2 332.6 C425.5 340 426 348 424 356 L396 356 C394.5 348 394.8 340 395.6 332.6 Z" fill="none" stroke="#2a1418" stroke-width="1.5"/>
<ellipse cx="384.5" cy="330" rx="3" ry="7" fill="#3a1a20"/>
<ellipse cx="436.5" cy="322" rx="2.6" ry="7" fill="#3a1a20"/>
<ellipse cx="439.8" cy="243.5" rx="2.2" ry="5" fill="#3a1a20"/>
<path d="M429 257 L435 256.5 L436 262 L431 265.5 L428.5 263 Z" fill="#1a0a0e"/>
<path d="M389 246 C391 244 394 245 394 249 C393 252 390 251 389 249 Z" fill="#1a0a0e"/>
<rect x="360.7" y="351.6" width="26.1" height="1.8" fill="#141414"/>
</g>
<g clip-path="url(#cfl)">
<rect x="26.2" y="431.9" width="103" height="129.7" fill="#98598e"/>
<rect x="26.2" y="431.9" width="103" height="129.7" filter="url(#marrow)"/>
<rect x="26.2" y="431.9" width="103" height="129.7" filter="url(#gaps)"/>
<g filter="url(#rough)">
<path d="M72.9 457.9 C76 454 86 450.5 93.8 449.8 C103 448.5 112 447.5 129.2 447.8 L129.2 456 C126 457 124.5 459 124.1 460.3 C123.5 468 122.5 472 121.8 476.6 C120 483 118.5 487 117.1 490.5 C115 496 112.5 500 110.1 504.5 C108 509 106 513 103.1 516.1 C100 519 97 520.5 93.8 520.8 C88 522 82 523 77.5 523.1 C72 522 69 520 67.1 518.5 C66 516 66 515 67.1 513.8 C68 511 69 509.5 70.6 509.1 L82.2 509.1 C87 508.5 91 508 93.8 506.8 C97 505 99.5 502.5 100.8 499.8 C101.5 494 101.5 489 100.8 483.5 C99 477 96.5 471 93.8 466 C91.5 469 90.5 470.5 89.2 471.9 C87 474.5 85 476 82.2 476.6 C79 476.5 77 474.5 75.2 471.9 C73.5 467 72.5 462 72.9 457.9 Z" fill="#d6b0be" stroke="#f0e6ee" stroke-width="2.4"/>
<path d="M26.2 502.2 C29 502 31 502.5 33.3 503.3 C35.5 504 37 505 38 506.8 C39 509 39 511 39.1 513.8 C40 517 41 520 42.6 523.1 C45 527 48 530 51.9 532.4 C56 535 60 536 63.6 537.1 C67 539 69.5 541 70.6 544.1 C71.2 546.5 71.2 549 70.6 551 C67 551.8 64 551.6 61.2 551 C56 549.5 51 548 47.3 546.4 C42 544.5 38 543 33.3 541.7 C31 541 28.5 540 26.2 539.4 Z" fill="#d6b0be" stroke="#f0e6ee" stroke-width="2.4"/>
<path d="M72.9 457.9 C76 454 86 450.5 93.8 449.8 C103 448.5 112 447.5 129.2 447.8 L129.2 456 C126 457 124.5 459 124.1 460.3 C123.5 468 122.5 472 121.8 476.6 C120 483 118.5 487 117.1 490.5 C115 496 112.5 500 110.1 504.5 C108 509 106 513 103.1 516.1 C100 519 97 520.5 93.8 520.8 C88 522 82 523 77.5 523.1 C72 522 69 520 67.1 518.5 C66 516 66 515 67.1 513.8 C68 511 69 509.5 70.6 509.1 L82.2 509.1 C87 508.5 91 508 93.8 506.8 C97 505 99.5 502.5 100.8 499.8 C101.5 494 101.5 489 100.8 483.5 C99 477 96.5 471 93.8 466 C91.5 469 90.5 470.5 89.2 471.9 C87 474.5 85 476 82.2 476.6 C79 476.5 77 474.5 75.2 471.9 C73.5 467 72.5 462 72.9 457.9 Z" fill="#d6b0be" stroke="#c08aa0" stroke-width="0.7"/>
<path d="M26.2 502.2 C29 502 31 502.5 33.3 503.3 C35.5 504 37 505 38 506.8 C39 509 39 511 39.1 513.8 C40 517 41 520 42.6 523.1 C45 527 48 530 51.9 532.4 C56 535 60 536 63.6 537.1 C67 539 69.5 541 70.6 544.1 C71.2 546.5 71.2 549 70.6 551 C67 551.8 64 551.6 61.2 551 C56 549.5 51 548 47.3 546.4 C42 544.5 38 543 33.3 541.7 C31 541 28.5 540 26.2 539.4 Z" fill="#d6b0be" stroke="#c08aa0" stroke-width="0.7"/>
</g>
<clipPath id="cbl"><path d="M72.9 457.9 C76 454 86 450.5 93.8 449.8 C103 448.5 112 447.5 129.2 447.8 L129.2 456 C126 457 124.5 459 124.1 460.3 C123.5 468 122.5 472 121.8 476.6 C120 483 118.5 487 117.1 490.5 C115 496 112.5 500 110.1 504.5 C108 509 106 513 103.1 516.1 C100 519 97 520.5 93.8 520.8 C88 522 82 523 77.5 523.1 C72 522 69 520 67.1 518.5 C66 516 66 515 67.1 513.8 C68 511 69 509.5 70.6 509.1 L82.2 509.1 C87 508.5 91 508 93.8 506.8 C97 505 99.5 502.5 100.8 499.8 C101.5 494 101.5 489 100.8 483.5 C99 477 96.5 471 93.8 466 C91.5 469 90.5 470.5 89.2 471.9 C87 474.5 85 476 82.2 476.6 C79 476.5 77 474.5 75.2 471.9 C73.5 467 72.5 462 72.9 457.9 Z"/><path d="M26.2 502.2 C29 502 31 502.5 33.3 503.3 C35.5 504 37 505 38 506.8 C39 509 39 511 39.1 513.8 C40 517 41 520 42.6 523.1 C45 527 48 530 51.9 532.4 C56 535 60 536 63.6 537.1 C67 539 69.5 541 70.6 544.1 C71.2 546.5 71.2 549 70.6 551 C67 551.8 64 551.6 61.2 551 C56 549.5 51 548 47.3 546.4 C42 544.5 38 543 33.3 541.7 C31 541 28.5 540 26.2 539.4 Z"/></clipPath>
<rect x="26.2" y="431.9" width="103" height="129.7" filter="url(#bonet)" clip-path="url(#cbl)" opacity="0.7"/>
<g fill="#a87088" opacity="0.7" clip-path="url(#cbl)"><ellipse cx="72.7" cy="507.1" rx="1.1" ry="0.6"/><ellipse cx="120.3" cy="496.7" rx="1.1" ry="0.6"/><ellipse cx="78.3" cy="510.2" rx="1.1" ry="0.6"/><ellipse cx="45.7" cy="501.8" rx="1.1" ry="0.6"/><ellipse cx="90.6" cy="533.0" rx="1.1" ry="0.6"/><ellipse cx="36.5" cy="478.7" rx="1.1" ry="0.6"/><ellipse cx="36.2" cy="534.9" rx="1.1" ry="0.6"/><ellipse cx="97.0" cy="449.6" rx="1.1" ry="0.6"/><ellipse cx="126.2" cy="552.1" rx="1.1" ry="0.6"/><ellipse cx="93.0" cy="513.3" rx="1.1" ry="0.6"/><ellipse cx="42.9" cy="446.7" rx="1.1" ry="0.6"/><ellipse cx="80.4" cy="451.6" rx="1.1" ry="0.6"/><ellipse cx="46.2" cy="471.9" rx="1.1" ry="0.6"/><ellipse cx="30.0" cy="496.5" rx="1.1" ry="0.6"/><ellipse cx="71.5" cy="538.5" rx="1.1" ry="0.6"/><ellipse cx="79.4" cy="516.1" rx="1.1" ry="0.6"/><ellipse cx="77.5" cy="518.5" rx="1.1" ry="0.6"/><ellipse cx="73.2" cy="475.9" rx="1.1" ry="0.6"/><ellipse cx="127.8" cy="555.5" rx="1.1" ry="0.6"/><ellipse cx="111.9" cy="523.6" rx="1.1" ry="0.6"/><ellipse cx="58.8" cy="470.5" rx="1.1" ry="0.6"/><ellipse cx="56.2" cy="452.8" rx="1.1" ry="0.6"/><ellipse cx="104.4" cy="489.4" rx="1.1" ry="0.6"/><ellipse cx="112.5" cy="487.9" rx="1.1" ry="0.6"/><ellipse cx="123.8" cy="539.1" rx="1.1" ry="0.6"/><ellipse cx="27.1" cy="468.3" rx="1.1" ry="0.6"/><ellipse cx="118.9" cy="497.2" rx="1.1" ry="0.6"/><ellipse cx="126.0" cy="489.1" rx="1.1" ry="0.6"/><ellipse cx="34.4" cy="514.9" rx="1.1" ry="0.6"/><ellipse cx="105.6" cy="474.9" rx="1.1" ry="0.6"/><ellipse cx="35.8" cy="481.9" rx="1.1" ry="0.6"/><ellipse cx="124.4" cy="529.1" rx="1.1" ry="0.6"/><ellipse cx="38.9" cy="472.3" rx="1.1" ry="0.6"/><ellipse cx="37.2" cy="451.6" rx="1.1" ry="0.6"/><ellipse cx="107.5" cy="464.7" rx="1.1" ry="0.6"/><ellipse cx="83.5" cy="494.7" rx="1.1" ry="0.6"/><ellipse cx="46.3" cy="526.2" rx="1.1" ry="0.6"/><ellipse cx="40.2" cy="516.5" rx="1.1" ry="0.6"/><ellipse cx="38.8" cy="491.7" rx="1.1" ry="0.6"/><ellipse cx="48.5" cy="474.9" rx="1.1" ry="0.6"/></g>
<g fill="none" stroke="#eacdd4" stroke-width="1.1" opacity="0.8">
<path d="M78 460 C86 455 96 453 104 452"/><path d="M114 486 C112 495 108 503 102 512"/><path d="M32 510 C38 520 44 532 60 544"/>
</g>
<ellipse cx="107" cy="472.5" rx="10.5" ry="10" fill="#f2e8f0"/>
<clipPath id="isl"><ellipse cx="107" cy="472.8" rx="9" ry="8.5"/></clipPath>
<g clip-path="url(#isl)"><rect x="96" y="462" width="22" height="22" fill="#98598e"/><rect x="26.2" y="431.9" width="103" height="129.7" filter="url(#marrow)"/><rect x="26.2" y="431.9" width="103" height="129.7" filter="url(#gaps)"/></g>
<rect x="31" y="553.3" width="26" height="1.9" fill="#111"/>
</g>
<g clip-path="url(#cfr)">
<rect x="135.4" y="431.9" width="103.7" height="129.7" fill="#dec0cc"/>
<rect x="135.4" y="431.9" width="103.7" height="129.7" filter="url(#bonet)" opacity="0.6"/>
<clipPath id="mfr"><path d="M166.3 448.2 C190 446 215 445 239.1 444.7 L239.1 482 C230 484 220 486 211.6 487.5 C209 485 207 484 204.4 482.8 C200 481 195 480 190.1 479.2 C185 478 180 477 175.9 475.6 C170 473 166 471 164 468.5 C163.5 463 164.5 458 166.3 454.2 Z"/><path d="M210 487.5 L239.1 481 L239.1 513 C232 513.5 226 514 223.5 516 C222.5 519 222 521 221.1 523.2 C218 526 215 527.5 211.6 528 C208 525 206 522 204.4 518.5 C204.5 512 206 505 209.2 499.4 C209.5 495 209.5 491 210 487.5 Z"/><path d="M135.4 454.2 C142 455 149 457 154.4 459 C156 465 156.5 470 155.6 475.6 C153 480 150 484 147.3 487.5 L135.4 487.5 Z"/><path d="M135.4 509 C143 510 150 511.5 156.8 513.7 C159 518 160.5 523 161.6 528 C158 535 152 541 147.3 547 L135.4 547 Z"/><path d="M168.7 520.5 C180 522 192 525 204.4 527 L203 530.5 C190 529 178 527 168 524.5 Z"/><path d="M180.6 547 C200 544 220 541 239.1 539.5 L239.1 561 L170 561 C173 556 176 551 180.6 547 Z"/><ellipse cx="175.8" cy="503" rx="8" ry="5"/></clipPath>
<ellipse cx="175.8" cy="503" rx="9.8" ry="6.6" fill="#f2eaf0"/>
<g filter="url(#rough)">
<g fill="none" stroke="#f2eaf0" stroke-width="3.2" opacity="0.9"><path d="M166.3 448.2 C190 446 215 445 239.1 444.7 L239.1 482 C230 484 220 486 211.6 487.5 C209 485 207 484 204.4 482.8 C200 481 195 480 190.1 479.2 C185 478 180 477 175.9 475.6 C170 473 166 471 164 468.5 C163.5 463 164.5 458 166.3 454.2 Z"/><path d="M210 487.5 L239.1 481 L239.1 513 C232 513.5 226 514 223.5 516 C222.5 519 222 521 221.1 523.2 C218 526 215 527.5 211.6 528 C208 525 206 522 204.4 518.5 C204.5 512 206 505 209.2 499.4 C209.5 495 209.5 491 210 487.5 Z"/><path d="M135.4 454.2 C142 455 149 457 154.4 459 C156 465 156.5 470 155.6 475.6 C153 480 150 484 147.3 487.5 L135.4 487.5 Z"/><path d="M135.4 509 C143 510 150 511.5 156.8 513.7 C159 518 160.5 523 161.6 528 C158 535 152 541 147.3 547 L135.4 547 Z"/><path d="M168.7 520.5 C180 522 192 525 204.4 527 L203 530.5 C190 529 178 527 168 524.5 Z"/><path d="M180.6 547 C200 544 220 541 239.1 539.5 L239.1 561 L170 561 C173 556 176 551 180.6 547 Z"/><ellipse cx="175.8" cy="503" rx="8" ry="5"/></g>
<g clip-path="url(#mfr)">
<rect x="135.4" y="431.9" width="103.7" height="129.7" fill="#98598e"/>
<rect x="135.4" y="431.9" width="103.7" height="129.7" filter="url(#marrow)"/>
<rect x="135.4" y="431.9" width="103.7" height="129.7" filter="url(#gaps)"/>
</g></g>
<g fill="#b0808e" opacity="0.7"><ellipse cx="169.4" cy="452.7" rx="1.1" ry="0.6" transform="rotate(9 169.4 452.7)"/><ellipse cx="144.2" cy="500.4" rx="1.1" ry="0.6" transform="rotate(-8 144.2 500.4)"/><ellipse cx="142.8" cy="496.9" rx="1.1" ry="0.6" transform="rotate(-28 142.8 496.9)"/><ellipse cx="180.4" cy="442.7" rx="1.1" ry="0.6" transform="rotate(-25 180.4 442.7)"/><ellipse cx="179.5" cy="536.5" rx="1.1" ry="0.6" transform="rotate(-23 179.5 536.5)"/><ellipse cx="159.3" cy="511.8" rx="1.1" ry="0.6" transform="rotate(27 159.3 511.8)"/><ellipse cx="194.7" cy="483.2" rx="1.1" ry="0.6" transform="rotate(29 194.7 483.2)"/><ellipse cx="141.7" cy="540.5" rx="1.1" ry="0.6" transform="rotate(-13 141.7 540.5)"/><ellipse cx="151.4" cy="448.6" rx="1.1" ry="0.6" transform="rotate(-11 151.4 448.6)"/><ellipse cx="218.6" cy="456.4" rx="1.1" ry="0.6" transform="rotate(5 218.6 456.4)"/><ellipse cx="200.9" cy="480.2" rx="1.1" ry="0.6" transform="rotate(3 200.9 480.2)"/><ellipse cx="143.3" cy="441.4" rx="1.1" ry="0.6" transform="rotate(-18 143.3 441.4)"/><ellipse cx="205.0" cy="487.0" rx="1.1" ry="0.6" transform="rotate(-11 205.0 487.0)"/><ellipse cx="195.6" cy="490.2" rx="1.1" ry="0.6" transform="rotate(-12 195.6 490.2)"/><ellipse cx="216.4" cy="520.7" rx="1.1" ry="0.6" transform="rotate(-15 216.4 520.7)"/><ellipse cx="194.4" cy="499.1" rx="1.1" ry="0.6" transform="rotate(23 194.4 499.1)"/><ellipse cx="209.9" cy="469.7" rx="1.1" ry="0.6" transform="rotate(29 209.9 469.7)"/><ellipse cx="148.8" cy="485.8" rx="1.1" ry="0.6" transform="rotate(15 148.8 485.8)"/><ellipse cx="152.2" cy="494.6" rx="1.1" ry="0.6" transform="rotate(-28 152.2 494.6)"/><ellipse cx="203.8" cy="528.8" rx="1.1" ry="0.6" transform="rotate(4 203.8 528.8)"/><ellipse cx="224.5" cy="472.9" rx="1.1" ry="0.6" transform="rotate(12 224.5 472.9)"/><ellipse cx="196.4" cy="505.9" rx="1.1" ry="0.6" transform="rotate(-3 196.4 505.9)"/><ellipse cx="221.0" cy="551.1" rx="1.1" ry="0.6" transform="rotate(-2 221.0 551.1)"/><ellipse cx="203.4" cy="441.5" rx="1.1" ry="0.6" transform="rotate(12 203.4 441.5)"/><ellipse cx="201.7" cy="557.1" rx="1.1" ry="0.6" transform="rotate(19 201.7 557.1)"/><ellipse cx="165.5" cy="481.8" rx="1.1" ry="0.6" transform="rotate(10 165.5 481.8)"/><ellipse cx="139.3" cy="491.3" rx="1.1" ry="0.6" transform="rotate(-20 139.3 491.3)"/><ellipse cx="148.7" cy="441.3" rx="1.1" ry="0.6" transform="rotate(16 148.7 441.3)"/><ellipse cx="149.9" cy="464.7" rx="1.1" ry="0.6" transform="rotate(-7 149.9 464.7)"/><ellipse cx="224.1" cy="444.0" rx="1.1" ry="0.6" transform="rotate(-3 224.1 444.0)"/><ellipse cx="191.9" cy="543.5" rx="1.1" ry="0.6" transform="rotate(19 191.9 543.5)"/><ellipse cx="223.4" cy="468.5" rx="1.1" ry="0.6" transform="rotate(-5 223.4 468.5)"/><ellipse cx="172.9" cy="543.6" rx="1.1" ry="0.6" transform="rotate(27 172.9 543.6)"/><ellipse cx="152.1" cy="455.9" rx="1.1" ry="0.6" transform="rotate(-16 152.1 455.9)"/><ellipse cx="160.3" cy="494.1" rx="1.1" ry="0.6" transform="rotate(5 160.3 494.1)"/><ellipse cx="163.3" cy="434.5" rx="1.1" ry="0.6" transform="rotate(-5 163.3 434.5)"/><ellipse cx="173.9" cy="504.2" rx="1.1" ry="0.6" transform="rotate(27 173.9 504.2)"/><ellipse cx="206.0" cy="497.9" rx="1.1" ry="0.6" transform="rotate(7 206.0 497.9)"/><ellipse cx="204.6" cy="440.7" rx="1.1" ry="0.6" transform="rotate(24 204.6 440.7)"/><ellipse cx="215.0" cy="542.4" rx="1.1" ry="0.6" transform="rotate(18 215.0 542.4)"/><ellipse cx="176.2" cy="483.5" rx="1.1" ry="0.6" transform="rotate(-24 176.2 483.5)"/><ellipse cx="200.4" cy="441.7" rx="1.1" ry="0.6" transform="rotate(-26 200.4 441.7)"/><ellipse cx="157.9" cy="454.1" rx="1.1" ry="0.6" transform="rotate(-10 157.9 454.1)"/><ellipse cx="142.3" cy="434.0" rx="1.1" ry="0.6" transform="rotate(-21 142.3 434.0)"/><ellipse cx="147.1" cy="479.1" rx="1.1" ry="0.6" transform="rotate(-28 147.1 479.1)"/><ellipse cx="224.4" cy="510.1" rx="1.1" ry="0.6" transform="rotate(-21 224.4 510.1)"/><ellipse cx="162.2" cy="477.1" rx="1.1" ry="0.6" transform="rotate(-8 162.2 477.1)"/><ellipse cx="149.3" cy="539.3" rx="1.1" ry="0.6" transform="rotate(30 149.3 539.3)"/><ellipse cx="183.6" cy="494.0" rx="1.1" ry="0.6" transform="rotate(-25 183.6 494.0)"/><ellipse cx="147.2" cy="476.5" rx="1.1" ry="0.6" transform="rotate(-14 147.2 476.5)"/><ellipse cx="219.9" cy="454.0" rx="1.1" ry="0.6" transform="rotate(-29 219.9 454.0)"/><ellipse cx="232.1" cy="499.5" rx="1.1" ry="0.6" transform="rotate(-21 232.1 499.5)"/><ellipse cx="191.3" cy="437.4" rx="1.1" ry="0.6" transform="rotate(2 191.3 437.4)"/><ellipse cx="234.9" cy="541.1" rx="1.1" ry="0.6" transform="rotate(12 234.9 541.1)"/><ellipse cx="163.1" cy="479.5" rx="1.1" ry="0.6" transform="rotate(-20 163.1 479.5)"/><ellipse cx="214.2" cy="500.0" rx="1.1" ry="0.6" transform="rotate(17 214.2 500.0)"/><ellipse cx="170.0" cy="461.7" rx="1.1" ry="0.6" transform="rotate(19 170.0 461.7)"/><ellipse cx="235.5" cy="539.7" rx="1.1" ry="0.6" transform="rotate(18 235.5 539.7)"/><ellipse cx="218.8" cy="525.7" rx="1.1" ry="0.6" transform="rotate(-16 218.8 525.7)"/><ellipse cx="188.8" cy="478.1" rx="1.1" ry="0.6" transform="rotate(-28 188.8 478.1)"/></g>
<g fill="none" stroke="#c9a0aa" stroke-width="0.7">
<path d="M135.4 446 C150 444 170 441 200 442 C215 442 230 443 239 443"/>
<path d="M150 534 C175 532 200 534 235 532"/>
</g>
<rect x="140.1" y="553.3" width="26" height="1.9" fill="#111"/>
</g>
</svg>
</body></html>
